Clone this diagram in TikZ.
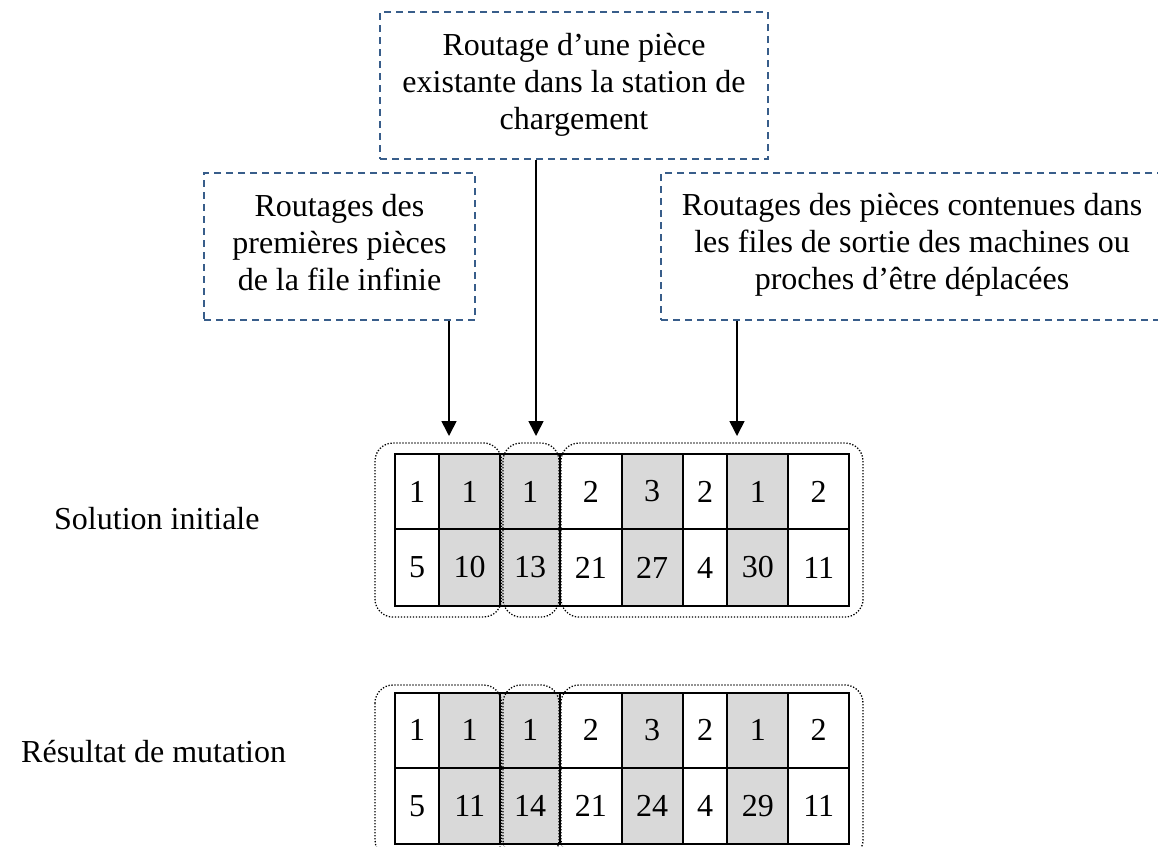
\documentclass[tikz,border=0pt]{standalone}
\usepackage{fontspec}
\setmainfont{Liberation Serif}
\usetikzlibrary{arrows.meta}
\definecolor{boxblue}{RGB}{56,93,138}
\definecolor{cellgray}{RGB}{217,217,217}
\begin{document}
\begin{tikzpicture}[x=1pt,y=-1pt,
  every node/.style={font=\fontsize{32}{37}\selectfont},
  dbox/.style={draw=boxblue, line width=1.6pt, dash pattern=on 7pt off 5pt, align=center, inner sep=0pt},
  arr/.style={line width=1.6pt, -{Triangle[width=15pt,length=15pt]}},
  cell/.style={draw=black, line width=2pt, inner sep=0pt},
  grp/.style={draw=black, line width=1.3pt, dash pattern=on 1.3pt off 1.7pt, rounded corners=18pt},
  lbl/.style={anchor=base west, inner sep=0pt}]
\useasboundingbox (0,0) rectangle (1158,846);

% dashed description boxes
\node[dbox, minimum width=388pt, minimum height=147pt] (top) at (574,85.5) {};
\node[align=center, inner sep=0pt] (toptxt) at (574,85) {Routage d’une pièce\\existante dans la station de\\chargement};
\node[dbox, minimum width=271pt, minimum height=147pt] (left) at (339.5,246.5) {};
\node[align=center, inner sep=0pt] (lefttxt) at (339.5,242.5) {Routages des\\premières pièces\\de la file infinie};
\node[dbox, minimum width=502pt, minimum height=147pt] (right) at (912,246.5) {};
\node[align=center, inner sep=0pt] (righttxt) at (912,244.5) {Routages des pièces contenues dans\\les files de sortie des machines ou\\proches d’être déplacées};

% arrow targets
\coordinate (aL) at (449,436);
\coordinate (aM) at (536,436);
\coordinate (aR) at (737,436);
\draw[arr] (left.south -| aL) -- (aL);
\draw[arr] (top.south -| aM) -- (aM);
\draw[arr] (right.south -| aR) -- (aR);

% row labels
\node[lbl] (sol) at (54,529) {Solution initiale};
\node[lbl] (mut) at (21,762) {Résultat de mutation};

% tables
\foreach \l/\r/\f/\a/\b/\c [count=\i] in {
  395/439.3/white/1/5/5,
  439.3/500/cellgray/1/10/11,
  500/560/cellgray/1/13/14,
  560/621.7/white/2/21/21,
  621.7/682.7/cellgray/3/27/24,
  682.7/727.3/white/2/4/4,
  727.3/788.3/cellgray/1/30/29,
  788.3/849/white/2/11/11}{
  \pgfmathsetmacro\w{\r-\l}
  \pgfmathsetmacro\m{(\r+\l)/2}
  \node[cell, fill=\f, minimum width=\w pt, minimum height=75pt] (s1-\i) at (\m,491.5) {\a};
  \node[cell, fill=\f, minimum width=\w pt, minimum height=77pt] (s2-\i) at (\m,567.5) {\b};
  \node[cell, fill=\f, minimum width=\w pt, minimum height=75.5pt] (m1-\i) at (\m,730.3) {\a};
  \node[cell, fill=\f, minimum width=\w pt, minimum height=76pt] (m2-\i) at (\m,806) {\c};
}

% dotted groups
\draw[grp] (375,443) rectangle (501.5,617);
\draw[grp] (503,443) rectangle (559,617);
\draw[grp] (561,443) rectangle (863,617);
\draw[grp] (375,685) rectangle (501.5,858);
\draw[grp] (503,685) rectangle (559,858);
\draw[grp] (561,685) rectangle (863,858);
\end{tikzpicture}
\end{document}
